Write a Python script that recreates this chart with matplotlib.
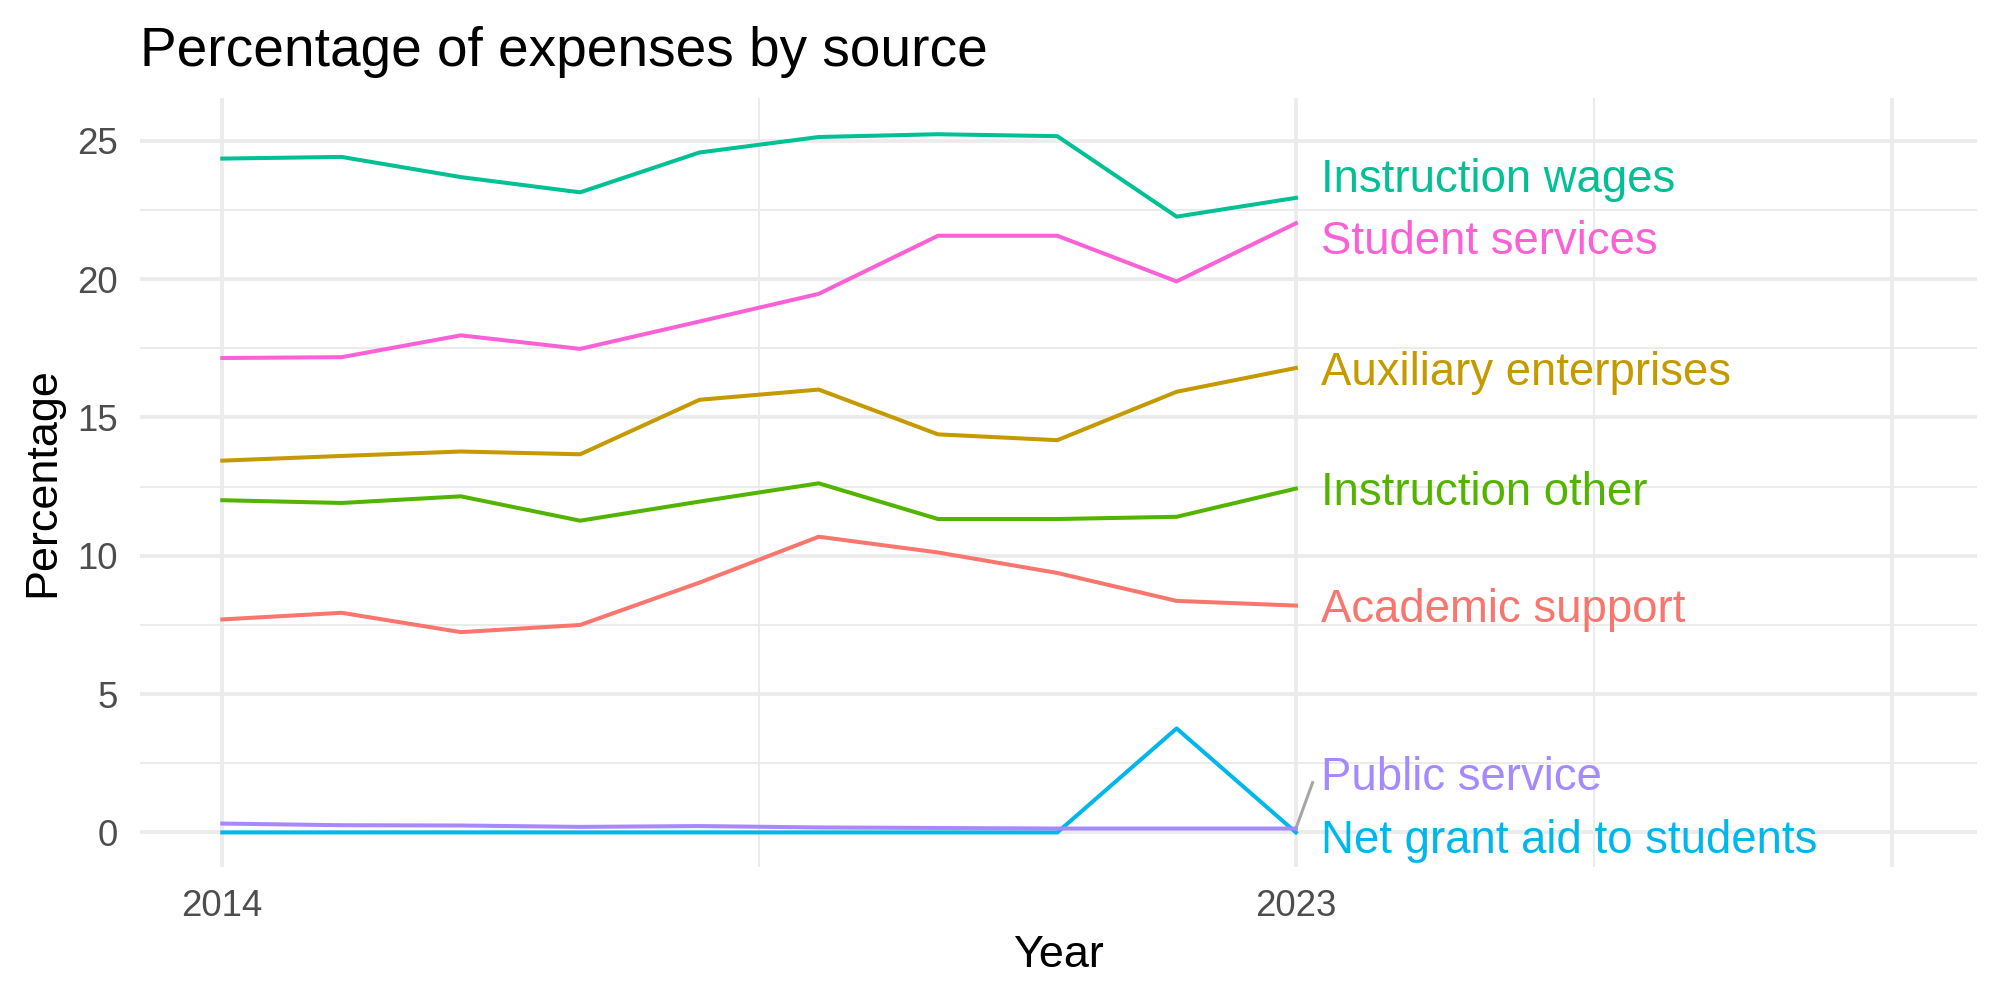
import matplotlib
matplotlib.use("Agg")
import matplotlib.pyplot as plt
from matplotlib.ticker import FixedLocator

plt.rcParams["font.family"] = ["Liberation Sans", "DejaVu Sans"]

# data
years = [2014, 2015, 2016, 2017, 2018, 2019, 2020, 2021, 2022, 2023]

academic_support = [7.70, 7.94, 7.24, 7.50, 9.03, 10.69, 10.12, 9.38, 8.37, 8.20]
auxiliary_enterprises = [13.44, 13.61, 13.77, 13.67, 15.64, 16.01, 14.39, 14.18, 15.93, 16.79]
instruction_other = [12.01, 11.91, 12.15, 11.27, 11.96, 12.62, 11.33, 11.33, 11.41, 12.43]
instruction_wages = [24.36, 24.42, 23.69, 23.14, 24.58, 25.14, 25.24, 25.17, 22.26, 22.94]
net_grant_aid = [0.0, 0.0, 0.0, 0.0, 0.0, 0.0, 0.0, 0.0, 3.76, 0.0]
public_service = [0.32, 0.26, 0.25, 0.20, 0.23, 0.18, 0.16, 0.14, 0.14, 0.14]
student_services = [17.15, 17.18, 17.97, 17.48, 18.47, 19.47, 21.57, 21.57, 19.92, 22.02]

series = {
    "Academic support": academic_support,
    "Auxiliary enterprises": auxiliary_enterprises,
    "Instruction other": instruction_other,
    "Instruction wages": instruction_wages,
    "Net grant aid to students": net_grant_aid,
    "Public service": public_service,
    "Student services": student_services,
}

colors = {
    "Academic support": "#F8766D",
    "Auxiliary enterprises": "#C49A00",
    "Instruction other": "#53B400",
    "Instruction wages": "#00C094",
    "Net grant aid to students": "#00B6EB",
    "Public service": "#A58AFF",
    "Student services": "#FB61D7",
}

# baseline of each repelled label (data units)
label_base = {
    "Academic support": 7.60,
    "Auxiliary enterprises": 16.17,
    "Instruction other": 11.84,
    "Instruction wages": 23.16,
    "Net grant aid to students": -0.73,
    "Public service": 1.55,
    "Student services": 20.90,
}

y_ticks = [0, 5, 10, 15, 20, 25]
x_ticks = [2014, 2023]

fig = plt.figure(figsize=(10, 5), dpi=200)
ax = fig.add_axes([140 / 2000, 133 / 1000, 1837 / 2000, 769 / 1000])

grid_col = "#EBEBEB"
ax.xaxis.set_major_locator(FixedLocator(x_ticks + [2028]))
ax.set_xticklabels([str(x) for x in x_ticks] + [""])
ax.xaxis.set_minor_locator(FixedLocator([2018.5, 2025.5]))
ax.yaxis.set_major_locator(FixedLocator(y_ticks))
ax.yaxis.set_minor_locator(FixedLocator([2.5, 7.5, 12.5, 17.5, 22.5]))
ax.grid(which="major", color=grid_col, linewidth=1.35)
ax.grid(which="minor", color=grid_col, linewidth=0.7)
ax.set_axisbelow(True)

for name, vals in series.items():
    ax.plot(years, vals, color=colors[name], linewidth=1.45, zorder=3)

x_end = years[-1]
for name, vals in series.items():
    base = label_base[name]
    ax.text(x_end + 0.21, base, name, color=colors[name], fontsize=16.4,
            va="baseline", ha="left", zorder=4)
    # leader segment when the label was pushed away from its line
    if abs(base + 0.55 - vals[-1]) > 1.2:
        ax.plot([x_end, x_end + 0.14], [vals[-1], base + 0.25],
                color="#A6A6A6", linewidth=1.1, zorder=2)

ax.set_xlim(2013.31, 2028.71)
ax.set_ylim(-1.25, 26.55)

for s in ax.spines.values():
    s.set_visible(False)
ax.tick_params(which="both", length=0)
ax.tick_params(axis="x", labelsize=13.2, labelcolor="#4D4D4D", pad=8)
ax.tick_params(axis="y", labelsize=13.2, labelcolor="#4D4D4D", pad=8)

ax.set_xlabel("Year", fontsize=16.2, labelpad=4)
ax.set_ylabel("Percentage", fontsize=16.2, labelpad=5)
fig.text(140 / 2000, 1 - 66 / 1000, "Percentage of expenses by source",
         fontsize=19.8, ha="left", va="baseline")

fig.savefig("out.png", dpi=200, facecolor="white")
